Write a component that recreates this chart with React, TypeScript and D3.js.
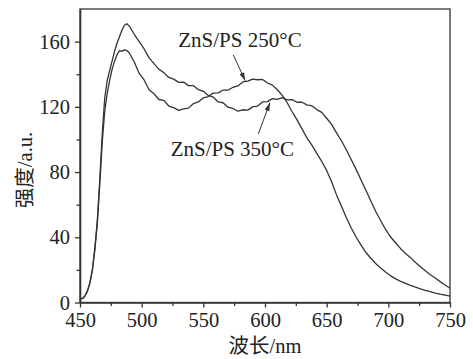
import { useEffect, useRef } from "react"
import * as d3 from "d3"

const wavelength = [
  450, 452, 454, 456, 458, 460, 462, 464, 466, 468, 470, 472, 474, 476, 478, 480, 482, 484, 486, 488, 490,
  494, 498, 502, 506, 510, 514, 518, 522, 526, 530, 534, 538, 542, 546, 550, 554, 558, 562, 566, 570,
  574, 578, 582, 586, 590, 594, 598, 602, 606, 610, 614, 618, 622, 626, 630, 634, 638, 642, 646, 650,
  654, 658, 662, 666, 670, 674, 678, 682, 686, 690, 694, 698, 702, 706, 710, 714, 718, 722, 726, 730,
  734, 738, 742, 746, 750,
]

// ZnS/PS 250°C
const intensity250 = [
  2, 2.5, 4, 7, 12, 19.5, 32, 48, 72, 98, 117, 128, 136, 143, 148, 152, 154.5, 154, 155, 154.5, 153,
  147.5, 140.5, 136.5, 130.5, 128, 124.5, 124, 120.5, 119.5, 117.8, 118.8, 119.2, 122, 123, 125.5, 126.3, 128.4, 128.6, 130.3, 130.2,
  132, 132.8, 135.3, 135.8, 137, 136.6, 136.8, 134.6, 133.3, 130.5, 127, 122.5, 117, 112, 106.5, 101, 96.5, 91.5, 86.5, 81,
  74, 66, 59, 52, 45.5, 40, 35, 30.5, 27, 23.8, 21, 18.5, 16.3, 14.5, 13, 11.7, 10.5, 9.4, 8.4, 7.4,
  6.6, 5.8, 5.1, 4.5, 3.9,
]

// ZnS/PS 350°C
const intensity350 = [
  2, 2.5, 4, 7, 12, 20, 33, 50, 75, 103, 125, 136, 142, 148, 154, 159, 163, 167, 170, 171, 169.5,
  164.5, 160, 155.5, 150, 146.5, 143, 141, 138, 137, 135, 135.2, 133, 133, 130.5, 129.5, 127, 126, 123, 122.5, 119.8,
  119, 117.3, 118.2, 118, 120, 120.5, 123, 123.2, 125, 124.6, 125.6, 124.3, 124.4, 122.8, 122.8, 121.2, 120.6, 118.3, 116.6, 113,
  109.2, 104, 99.2, 93.5, 87.5, 81.5, 75, 68.5, 62, 55.5, 50, 44.5, 40, 36.5, 33, 30, 27.5, 24.5, 22, 19.5,
  17, 15, 12.8, 10.7, 8.7,
]

const xMajorTicks = [450, 500, 550, 600, 650, 700, 750]
const xMinorTicks = [475, 525, 575, 625, 675, 725]
const yMajorTicks = [0, 40, 80, 120, 160]
const yMinorTicks = [20, 60, 100, 140]

// annotation text start / baseline and arrow tail -> tip, all in data units
const labels = [
  { text: "ZnS/PS 250°C", tx: 529.7, ty: 157, x1: 574.3, y1: 151.8, x2: 584, y2: 136 },
  { text: "ZnS/PS 350°C", tx: 523.5, ty: 89.6, x1: 594.6, y1: 103.4, x2: 604, y2: 122.6 },
]

const serif = "'Liberation Serif', Tinos, 'Times New Roman', 'DejaVu Serif', 'Noto Sans CJK SC', serif"

const App = () => {
  const svgRef = useRef<SVGSVGElement>(null)

  useEffect(() => {
    const svg = d3.select(svgRef.current)
    svg.selectAll("*").remove()

    const W = 473
    const H = 359
    const margin = { top: 9, right: 23, bottom: 56.5, left: 80 }
    const width = W - margin.left - margin.right
    const height = H - margin.top - margin.bottom

    const x = d3.scaleLinear().domain([450, 750]).range([0, width])
    const y = d3.scaleLinear().domain([0, 180]).range([height, 0])

    const g = svg.append("g").attr("transform", `translate(${margin.left},${margin.top})`)

    const ink = "#333"

    const line = d3
      .line<number>()
      .x((_, i) => x(wavelength[i]))
      .y((d) => y(d))

    ;[intensity250, intensity350].forEach((series) => {
      g.append("path")
        .datum(series)
        .attr("fill", "none")
        .attr("stroke", ink)
        .attr("stroke-width", 1.3)
        .attr("stroke-linejoin", "round")
        .attr("d", line)
    })

    // frame
    g.append("rect")
      .attr("x", 0)
      .attr("y", 0)
      .attr("width", width)
      .attr("height", height)
      .attr("fill", "none")
      .attr("stroke", "#444")
      .attr("stroke-width", 1.4)

    // x axis
    const xAxis = g
      .append("g")
      .attr("transform", `translate(0,${height})`)
      .call(d3.axisBottom(x).tickValues(xMajorTicks).tickSize(5).tickPadding(4.5).tickSizeOuter(0))
    g.append("g")
      .attr("transform", `translate(0,${height})`)
      .call(d3.axisBottom(x).tickValues(xMinorTicks).tickSize(3.5).tickFormat(() => "").tickSizeOuter(0))
      .call((a) => a.select(".domain").remove())
      .selectAll("line")
      .attr("stroke", ink)
      .attr("stroke-width", 1.3)

    // y axis
    const yAxis = g
      .append("g")
      .call(d3.axisLeft(y).tickValues(yMajorTicks).tickSize(5).tickPadding(5).tickSizeOuter(0))
    g.append("g")
      .call(d3.axisLeft(y).tickValues(yMinorTicks).tickSize(3.5).tickFormat(() => "").tickSizeOuter(0))
      .call((a) => a.select(".domain").remove())
      .selectAll("line")
      .attr("stroke", ink)
      .attr("stroke-width", 1.3)

    ;[xAxis, yAxis].forEach((a) => {
      a.attr("font-family", serif).attr("font-size", 20.5)
      a.select(".domain").attr("stroke", ink).attr("stroke-width", 1.6)
      a.selectAll(".tick line").attr("stroke", ink).attr("stroke-width", 1.3)
      a.selectAll("text").attr("fill", "#222")
    })

    // annotations
    const defs = svg.append("defs")
    defs
      .append("marker")
      .attr("id", "arrowhead")
      .attr("viewBox", "0 0 10 6")
      .attr("refX", 10)
      .attr("refY", 3)
      .attr("markerWidth", 9)
      .attr("markerHeight", 5)
      .attr("markerUnits", "userSpaceOnUse")
      .attr("orient", "auto")
      .append("path")
      .attr("d", "M0,0 L10,3 L0,6 Z")
      .attr("fill", ink)

    labels.forEach((l) => {
      g.append("line")
        .attr("x1", x(l.x1))
        .attr("y1", y(l.y1))
        .attr("x2", x(l.x2))
        .attr("y2", y(l.y2))
        .attr("stroke", ink)
        .attr("stroke-width", 1)
        .attr("marker-end", "url(#arrowhead)")

      g.append("text")
        .attr("x", x(l.tx))
        .attr("y", y(l.ty))
        .attr("font-family", serif)
        .attr("font-size", 21)
        .attr("fill", "#222")
        .text(l.text)
    })

    // axis titles
    svg
      .append("text")
      .attr("x", margin.left + width / 2)
      .attr("y", 353)
      .attr("text-anchor", "middle")
      .attr("font-family", serif)
      .attr("font-size", 20.5)
      .attr("fill", "#222")
      .text("波长/nm")

    svg
      .append("text")
      .attr("transform", `translate(32,170) rotate(-90)`)
      .attr("text-anchor", "middle")
      .attr("font-family", serif)
      .attr("font-size", 20.5)
      .attr("fill", "#222")
      .text("强度/a.u.")
  }, [])

  return (
    <div style={{ position: "absolute", left: 0, top: 0, background: "#fff" }}>
      <svg ref={svgRef} width={473} height={359} style={{ display: "block" }}></svg>
    </div>
  )
}

export default App
